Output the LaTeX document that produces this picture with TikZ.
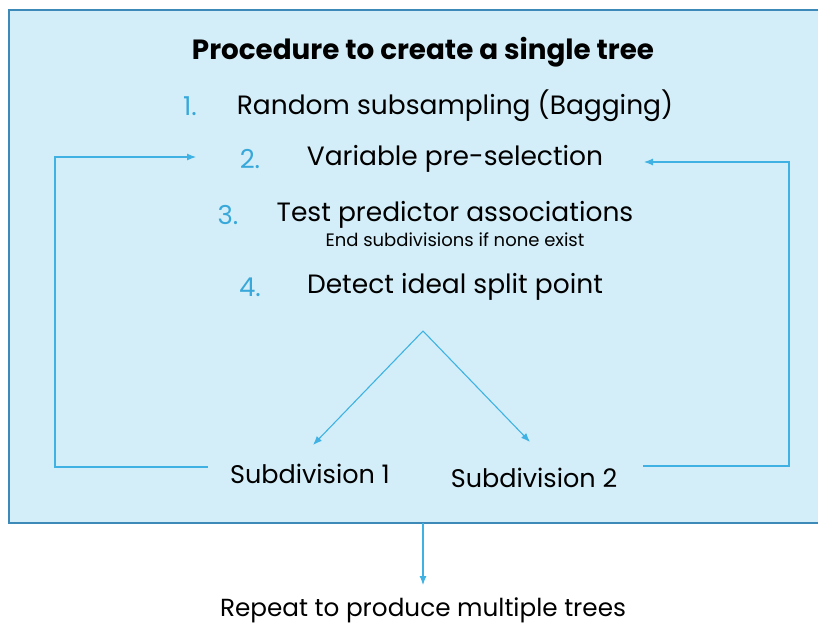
\documentclass[tikz,border=0pt]{standalone}
\usepackage{fontspec}
\setmainfont{Poppins}
\usetikzlibrary{arrows.meta}
\definecolor{panelfill}{HTML}{D3EEF8}
\definecolor{panelrule}{HTML}{3D8AB8}
\definecolor{linkblue}{HTML}{3FB2E3}
\definecolor{numblue}{HTML}{38A8DA}
\tikzset{
  link/.style={draw=linkblue, line width=1.1pt, -{Latex[length=9pt,width=7pt]}},
  stepnum/.style={text=numblue, font=\fontsize{26}{30}\selectfont, inner sep=0pt},
  steptext/.style={text=black, font=\fontsize{26.5}{30}\selectfont, inner sep=0pt},
  subnote/.style={text=black, font=\fontsize{18}{20}\selectfont, inner sep=0pt},
  headline/.style={text=black, font=\bfseries\fontsize{27.8}{30}\selectfont, inner sep=0pt},
  leaf/.style={text=black, font=\fontsize{25.5}{28}\selectfont, inner sep=0pt},
  footer/.style={text=black, font=\fontsize{24.7}{28}\selectfont, inner sep=0pt},
}
\begin{document}
\begin{tikzpicture}[x=1pt,y=-1pt]
\useasboundingbox (0,0) rectangle (818,624);
\clip (0,0) rectangle (818,624);
% panel holding the single-tree procedure
\draw[fill=panelfill, draw=panelrule, line width=1.6pt] (9,10) rectangle (840,523);

\node[headline] (title) at (423,52) {Procedure to create a single tree};

\node[stepnum]  (n1) at (190,106) {1.};
\node[steptext] (t1) at (455,106) {Random subsampling (Bagging)};
\node[stepnum]  (n2) at (250,159) {2.};
\node[steptext] (t2) at (455,159) {Variable pre-selection};
\node[stepnum]  (n3) at (228,215) {3.};
\node[steptext] (t3) at (455,215) {Test predictor associations};
\node[subnote]  (t3b) at (455,240) {End subdivisions if none exist};
\node[stepnum]  (n4) at (250,287) {4.};
\node[steptext] (t4) at (455,287) {Detect ideal split point};

\node[leaf] (s1) at (310,474) {Subdivision 1};
\node[leaf] (s2) at (534,478) {Subdivision 2};

\node[footer] (rep) at (423,610) {Repeat to produce multiple trees};

% split into two subdivisions
\coordinate (split) at (423,331);
\coordinate (s1tip) at (313,445);
\coordinate (s2tip) at (530,442);
\draw[link] (split) -- (s1tip);
\draw[link] (split) -- (s2tip);

% feedback loops back to variable pre-selection
\coordinate (lA) at (208,467);
\coordinate (lB) at (55,467);
\coordinate (lC) at (55,157);
\coordinate (lD) at (196,157);
\draw[link] (lA) -- (lB) -- (lC) -- (lD);
\coordinate (rA) at (643,466);
\coordinate (rB) at (789,466);
\coordinate (rC) at (789,162);
\coordinate (rD) at (644,162);
\draw[link] (rA) -- (rB) -- (rC) -- (rD);

% repeat for the forest
\coordinate (out) at (423,523);
\coordinate (outTip) at (423,585);
\draw[link] (out) -- (outTip);
\end{tikzpicture}
\end{document}
